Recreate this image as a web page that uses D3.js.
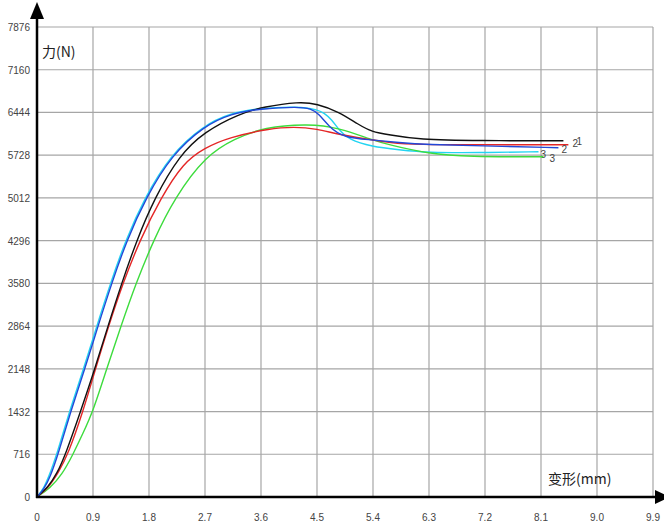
<!DOCTYPE html>
<html>
<head>
<meta charset="utf-8">
<script src="https://cdn.jsdelivr.net/npm/d3@7"></script>
<style>
  body { margin: 0; background: #fff; }
  svg { display: block; }
</style>
</head>
<body>
<div id="container"></div>
<script>
var WIDTH = 664;
var HEIGHT = 522;

// axis ticks
var xTicks = [0, 0.9, 1.8, 2.7, 3.6, 4.5, 5.4, 6.3, 7.2, 8.1, 9.0, 9.9];
var xTickLabels = ['0', '0.9', '1.8', '2.7', '3.6', '4.5', '5.4', '6.3', '7.2', '8.1', '9.0', '9.9'];
var yTicks = [0, 716, 1432, 2148, 2864, 3580, 4296, 5012, 5728, 6444, 7160, 7876];

// curves: [deformation mm, force N]
var black = [[0,0],[0.18,168],[0.32,390],[0.46,716],[0.70,1432],[0.93,2148],[1.14,2864],[1.36,3580],[1.60,4296],[1.89,5012],[2.29,5728],[2.69,6121],[3.25,6423],[3.65,6540],[4.21,6624],[4.50,6591],[4.85,6456],[5.17,6238],[5.38,6121],[5.65,6071],[6.13,5987],[7.09,5970],[8.46,5970]];
var red = [[0,0],[0.18,151],[0.34,402],[0.50,716],[0.74,1432],[0.94,2148],[1.15,2864],[1.38,3580],[1.65,4296],[1.99,5012],[2.35,5600],[2.69,5850],[3.09,6030],[3.73,6171],[4.13,6205],[4.50,6171],[4.85,6071],[5.38,5987],[5.65,5937],[6.13,5903],[7.09,5903],[8.54,5903]];
var cyan = [[0,0],[0.10,130],[0.19,340],[0.32,716],[0.52,1432],[0.75,2148],[0.96,2864],[1.18,3580],[1.42,4296],[1.73,5012],[2.14,5728],[2.67,6222],[3.10,6430],[3.57,6515],[4.21,6545],[4.50,6490],[4.61,6440],[4.74,6322],[4.85,6155],[5.01,5987],[5.38,5870],[5.81,5819],[6.29,5769],[7.09,5769],[8.06,5786]];
var blue = [[0,0],[0.11,130],[0.21,330],[0.34,716],[0.54,1432],[0.77,2148],[0.98,2864],[1.20,3580],[1.44,4296],[1.75,5012],[2.16,5728],[2.69,6222],[3.12,6423],[3.57,6507],[4.21,6540],[4.40,6507],[4.53,6423],[4.69,6205],[4.93,6020],[5.38,5987],[5.81,5937],[6.29,5903],[7.09,5886],[8.38,5853]];
var green = [[0,0],[0.21,150],[0.40,370],[0.58,716],[0.74,1070],[0.90,1432],[1.12,2148],[1.35,2864],[1.59,3580],[1.87,4296],[2.21,5012],[2.72,5728],[3.17,6000],[3.65,6200],[4.37,6255],[4.85,6188],[5.38,5987],[5.65,5903],[6.29,5752],[6.93,5702],[8.14,5702]];

var seriesData = [cyan, green, red, black, blue];
var seriesColors = ['#22d4f2', '#3ddc3d', '#e42626', '#111111', '#2148d8'];
var seriesLabels = ['3', '3', '2', '1', '2'];
var labelOffsets = [[2, 6], [6, 5], [4, 2], [13, 4], [3, 5]];

const svg = d3.select('#container')
  .append('svg')
    .attr('width', WIDTH)
    .attr('height', HEIGHT);

const x = d3.scaleLinear().domain([0, 9.9]).range([37, 653]);
const y = d3.scaleLinear().domain([0, 7876]).range([497, 27]);

// grid
svg.append('g').selectAll('line')
  .data(yTicks.slice(1))
  .enter().append('line')
    .attr('x1', x(0)).attr('x2', x(9.9))
    .attr('y1', d => y(d)).attr('y2', d => y(d))
    .attr('stroke', '#a6a6a6').attr('stroke-width', 1.2);

svg.append('g').selectAll('line')
  .data(xTicks.slice(1))
  .enter().append('line')
    .attr('x1', d => x(d)).attr('x2', d => x(d))
    .attr('y1', y(7876)).attr('y2', y(0))
    .attr('stroke', '#a6a6a6').attr('stroke-width', 1.2);

// tick labels
svg.append('g').selectAll('text')
  .data(yTicks)
  .enter().append('text')
    .attr('x', 30)
    .attr('y', d => y(d) + 4)
    .attr('text-anchor', 'end')
    .attr('fill', '#444')
    .style('font-family', 'Liberation Sans, Arial, sans-serif')
    .style('font-size', '10px')
    .text(d => d);

svg.append('g').selectAll('text')
  .data(xTicks)
  .enter().append('text')
    .attr('x', d => x(d))
    .attr('y', 521)
    .attr('text-anchor', 'middle')
    .attr('fill', '#444')
    .style('font-family', 'Liberation Sans, Arial, sans-serif')
    .style('font-size', '10px')
    .text((d, i) => xTickLabels[i]);

// curves
const line = d3.line()
  .x(d => x(d[0]))
  .y(d => y(d[1]))
  .curve(d3.curveBasis);

seriesData.forEach((s, i) => {
  svg.append('path')
    .datum(s)
    .attr('d', line)
    .attr('fill', 'none')
    .attr('stroke', seriesColors[i])
    .attr('stroke-width', 1.4);

  var last = s[s.length - 1];
  svg.append('text')
    .attr('x', x(last[0]) + labelOffsets[i][0])
    .attr('y', y(last[1]) + labelOffsets[i][1])
    .attr('fill', '#444')
    .style('font-family', 'Liberation Sans, Arial, sans-serif')
    .style('font-size', '10px')
    .text(seriesLabels[i]);
});

// axes
svg.append('line')
  .attr('x1', x(0)).attr('x2', x(0))
  .attr('y1', y(0) + 1).attr('y2', 14)
  .attr('stroke', '#000').attr('stroke-width', 2.5);
svg.append('path')
  .attr('d', `M${x(0)},2 L${x(0) - 7},19 L${x(0) + 7},19 Z`)
  .attr('fill', '#000');

svg.append('line')
  .attr('x1', x(0) - 1).attr('x2', 656)
  .attr('y1', y(0)).attr('y2', y(0))
  .attr('stroke', '#000').attr('stroke-width', 2.5);
svg.append('path')
  .attr('d', `M670,${y(0)} L655,${y(0) - 7} L655,${y(0) + 7} Z`)
  .attr('fill', '#000');

// axis titles
svg.append('text')
  .attr('x', 42).attr('y', 57)
  .attr('fill', '#222')
  .style('font-family', 'Noto Sans CJK SC, sans-serif')
  .style('font-size', '14px')
  .text('力(N)');

svg.append('text')
  .attr('x', 548).attr('y', 484)
  .attr('fill', '#222')
  .style('font-family', 'Noto Sans CJK SC, sans-serif')
  .style('font-size', '14px')
  .text('变形(mm)');
</script>
</body>
</html>
